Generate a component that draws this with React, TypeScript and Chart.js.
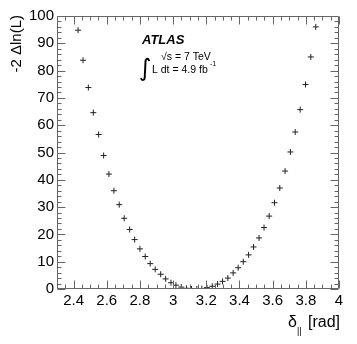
import React, { useEffect, useRef } from "react";
import { Chart, registerables } from "chart.js";

Chart.register(...registerables);

const deltaValues = [
  2.427, 2.457, 2.489, 2.519, 2.551, 2.581, 2.613, 2.643, 2.675, 2.705,
  2.738, 2.768, 2.8, 2.832, 2.862, 2.892, 2.925, 2.955, 2.987, 3.017,
  3.049, 3.081, 3.111, 3.143, 3.173, 3.204, 3.236, 3.268, 3.298, 3.33,
  3.362, 3.392, 3.423, 3.455, 3.485, 3.518, 3.548, 3.579, 3.611, 3.643,
  3.675, 3.707, 3.736, 3.766, 3.798, 3.83, 3.86,
];
const nllValues = [
  94.8, 83.8, 73.8, 64.6, 56.6, 48.9, 42.1, 36.0, 30.9, 25.9,
  21.8, 18.1, 14.7, 11.9, 9.3, 7.2, 5.4, 3.7, 2.3, 1.4,
  0.7, 0.25, 0.03, 0.0, 0.15, 0.5, 1.0, 1.8, 2.8, 4.0,
  5.9, 7.8, 10.0, 12.5, 15.4, 18.7, 22.5, 26.7, 31.6, 37.0,
  43.2, 50.2, 57.5, 65.7, 74.9, 85.0, 96.0,
];
const xTickValues = [2.4, 2.6, 2.8, 3.0, 3.2, 3.4, 3.6, 3.8, 4.0];
const xTickLabels = ["2.4", "2.6", "2.8", "3", "3.2", "3.4", "3.6", "3.8", "4"];
const yTickValues = [0, 10, 20, 30, 40, 50, 60, 70, 80, 90, 100];
const yTickLabels = ["0", "10", "20", "30", "40", "50", "60", "70", "80", "90", "100"];
const xMinorStep = 0.05;
const yMinorStep = 2;

const FONT = '"Liberation Sans", Arial, sans-serif';

const framePlugin = {
  id: "rootFrame",
  afterDraw(chart: any) {
    const { ctx, chartArea } = chart;
    const xs = chart.scales.x;
    const ys = chart.scales.y;
    const L = Math.round(chartArea.left) + 0.5;
    const R = Math.round(chartArea.right) - 0.5;
    const T = Math.round(chartArea.top) + 0.5;
    const B = Math.round(chartArea.bottom) - 0.5;
    ctx.save();
    ctx.strokeStyle = "#666";
    ctx.lineWidth = 1;
    ctx.beginPath();
    ctx.rect(L, T, R - L, B - T);
    ctx.stroke();
    ctx.beginPath();
    const nx0 = Math.ceil(xs.min / xMinorStep - 1e-6);
    const nx1 = Math.floor(xs.max / xMinorStep + 1e-6);
    for (let i = nx0; i <= nx1; i++) {
      const v = i * xMinorStep;
      const major = xTickValues.some((t) => Math.abs(t - v) < 1e-6);
      const len = major ? 8 : 4;
      const px = Math.round(xs.getPixelForValue(v)) + 0.5;
      ctx.moveTo(px, B);
      ctx.lineTo(px, B - len);
      ctx.moveTo(px, T);
      ctx.lineTo(px, T + len);
    }
    const ny0 = Math.ceil(ys.min / yMinorStep - 1e-6);
    const ny1 = Math.floor(ys.max / yMinorStep + 1e-6);
    for (let i = ny0; i <= ny1; i++) {
      const v = i * yMinorStep;
      const major = yTickValues.some((t) => Math.abs(t - v) < 1e-6);
      const len = major ? 8 : 4;
      const py = Math.round(ys.getPixelForValue(v)) + 0.5;
      ctx.moveTo(L, py);
      ctx.lineTo(L + len, py);
      ctx.moveTo(R, py);
      ctx.lineTo(R - len, py);
    }
    ctx.stroke();

    ctx.fillStyle = "#000";
    ctx.save();
    ctx.translate(20.5, chartArea.top - 1);
    ctx.rotate(-Math.PI / 2);
    ctx.font = `15px ${FONT}`;
    ctx.textAlign = "right";
    ctx.textBaseline = "alphabetic";
    ctx.fillText("-2 \u0394ln(L)", 0, 0);
    ctx.restore();

    ctx.textBaseline = "alphabetic";
    ctx.textAlign = "right";
    ctx.font = `16px ${FONT}`;
    ctx.fillText("[rad]", 340, 327);
    ctx.textAlign = "left";
    ctx.fillText("\u03b4", 288, 327);
    ctx.font = `9px ${FONT}`;
    ctx.fillText("||", 297, 334);

    ctx.font = `italic bold 13px ${FONT}`;
    ctx.fillText("ATLAS", 142, 44);
    ctx.font = `24px "DejaVu Sans"`;
    ctx.fillText("\u222b", 139, 76);
    ctx.font = `10.5px ${FONT}`;
    ctx.fillText("\u221as = 7 TeV", 161, 60);
    ctx.fillText("L dt = 4.9 fb", 152, 72.5);
    ctx.font = `7px ${FONT}`;
    ctx.fillText("-1", 210, 66);
    ctx.restore();
  },
};

export default function App() {
  const ref = useRef<HTMLCanvasElement>(null);
  useEffect(() => {
    if (!ref.current) return;
    const chart = new Chart(ref.current, {
      type: "scatter",
      data: {
        datasets: [
          {
            data: deltaValues.map((x, i) => ({ x, y: nllValues[i] })),
            pointStyle: "cross",
            pointRadius: 3,
            pointBorderWidth: 1,
            borderColor: "#222",
            backgroundColor: "#222",
            showLine: false,
          },
        ],
      },
      options: {
        responsive: false,
        animation: false,
        devicePixelRatio: 1,
        layout: { padding: { left: 0, top: 16, right: 18, bottom: 0 } },
        plugins: {
          legend: { display: false },
          tooltip: { enabled: false },
        },
        scales: {
          x: {
            type: "linear",
            min: 2.3,
            max: 4.0,
            grid: { display: false, drawTicks: false },
            border: { display: false },
            afterBuildTicks: (s: any) => {
              s.ticks = xTickValues.map((v) => ({ value: v }));
            },
            afterFit: (s: any) => {
              s.height = 55;
            },
            ticks: {
              padding: 3,
              maxRotation: 0,
              autoSkip: false,
              color: "#000",
              font: { family: FONT, size: 15 },
              callback: (_v: any, i: number) => xTickLabels[i],
            },
          },
          y: {
            type: "linear",
            min: 0,
            max: 100,
            grid: { display: false, drawTicks: false },
            border: { display: false },
            afterBuildTicks: (s: any) => {
              s.ticks = yTickValues.map((v) => ({ value: v }));
            },
            afterFit: (s: any) => {
              s.width = 57;
            },
            ticks: {
              padding: 3,
              autoSkip: false,
              color: "#000",
              font: { family: FONT, size: 15 },
              callback: (_v: any, i: number) => yTickLabels[i],
            },
          },
        },
      },
      plugins: [framePlugin],
    });
    return () => chart.destroy();
  }, []);
  return (
    <div style={{ position: "fixed", left: 0, top: 0, width: 357, height: 344, background: "#fff" }}>
      <canvas ref={ref} width={357} height={344} />
    </div>
  );
}
